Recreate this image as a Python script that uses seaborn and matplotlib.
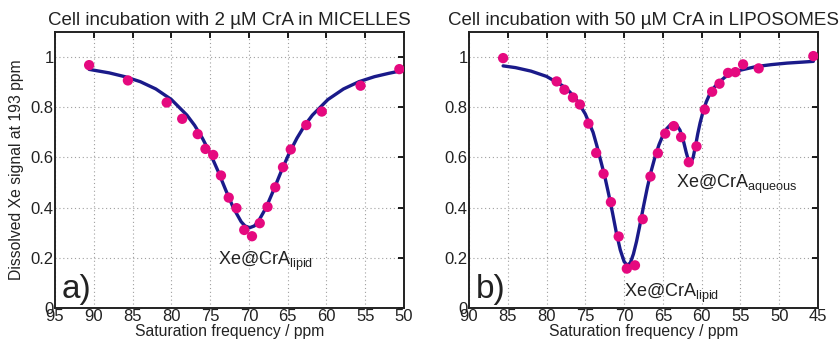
import matplotlib
matplotlib.use("Agg")
import matplotlib.pyplot as plt
import seaborn as sns
import pandas as pd

# ---- Panel a) MICELLES: measured points ----
a_ppm = [90.6, 85.6, 80.6, 78.6, 76.6, 75.6, 74.6, 73.6, 72.6, 71.6, 70.6,
         69.6, 68.6, 67.6, 66.6, 65.6, 64.6, 62.6, 60.6, 55.6, 50.6]
a_sig = [0.968, 0.907, 0.819, 0.754, 0.693, 0.634, 0.610, 0.528, 0.440, 0.398,
         0.311, 0.286, 0.338, 0.403, 0.481, 0.561, 0.632, 0.729, 0.783, 0.886, 0.952]
# ---- Panel a) fit curve (read off the picture) ----
a_fit_ppm = [90.6, 88, 86, 84, 82, 80, 78, 77, 76, 75, 74, 73, 72, 71, 70.5, 69.9,
             69.3, 68.8, 67.8, 66.8, 65.8, 64.8, 63.8, 62.8, 61.8, 59.8, 57.8,
             55.8, 53.8, 52, 50.6]
a_fit_sig = [0.951, 0.937, 0.922, 0.902, 0.873, 0.831, 0.769, 0.728, 0.677, 0.617,
             0.547, 0.471, 0.399, 0.344, 0.327, 0.320, 0.327, 0.344, 0.399, 0.471,
             0.547, 0.617, 0.677, 0.728, 0.769, 0.831, 0.873, 0.902, 0.922, 0.935, 0.944]

# ---- Panel b) LIPOSOMES: measured points ----
b_ppm = [85.6, 78.7, 77.7, 76.6, 75.7, 74.6, 73.6, 72.65, 71.7, 70.7, 69.65, 68.6,
         67.6, 66.6, 65.65, 64.7, 63.6, 62.65, 61.66, 60.67, 59.6, 58.65, 57.7,
         56.6, 55.65, 54.66, 52.65, 45.6]
b_sig = [0.996, 0.903, 0.870, 0.839, 0.811, 0.735, 0.618, 0.535, 0.422, 0.285,
         0.157, 0.170, 0.354, 0.524, 0.617, 0.695, 0.725, 0.681, 0.581, 0.644,
         0.791, 0.862, 0.894, 0.937, 0.940, 0.971, 0.955, 1.004]
# ---- Panel b) fit curve (read off the picture) ----
b_fit_ppm = [85.6, 84, 82, 80, 78, 77, 76, 75, 74, 73.5, 73, 72.5, 72, 71.5, 71, 70.5,
             70, 69.6, 69.2, 68.8, 68.4, 68, 67.5, 67, 66.5, 66, 65.5, 65, 64.5, 64,
             63.6, 63.2, 62.8, 62.4, 62, 61.7, 61.4, 61.1, 60.8, 60.5, 60.2, 59.8,
             59.4, 59, 58.5, 58, 57, 56, 55, 53, 51, 49, 47, 45.6]
b_fit_sig = [0.965, 0.958, 0.944, 0.923, 0.887, 0.861, 0.824, 0.773, 0.700, 0.645,
             0.585, 0.525, 0.455, 0.380, 0.300, 0.232, 0.185, 0.170, 0.180, 0.215,
             0.265, 0.325, 0.405, 0.481, 0.547, 0.604, 0.651, 0.688, 0.715, 0.731,
             0.735, 0.728, 0.709, 0.672, 0.621, 0.588, 0.578, 0.600, 0.645, 0.695,
             0.738, 0.785, 0.822, 0.850, 0.875, 0.893, 0.920, 0.937, 0.948, 0.962,
             0.970, 0.976, 0.980, 0.983]

titles = ["Cell incubation with 2 \u00b5M CrA in MICELLES",
          "Cell incubation with 50 \u00b5M CrA in LIPOSOMES"]
xlabel = "Saturation frequency / ppm"
ylabel = "Dissolved Xe signal at 193 ppm"
a_xticks = [95, 90, 85, 80, 75, 70, 65, 60, 55, 50]
b_xticks = [90, 85, 80, 75, 70, 65, 60, 55, 50, 45]
yticks = [0, 0.2, 0.4, 0.6, 0.8, 1]
ytick_labels = ["0", "0.2", "0.4", "0.6", "0.8", "1"]

sns.set_theme(style="white")
plt.rcParams["font.family"] = ["Liberation Sans", "DejaVu Sans"]
plt.rcParams["mathtext.fontset"] = "custom"
plt.rcParams["mathtext.rm"] = "Liberation Sans"

PINK = "#E5097F"
NAVY = "#1A1A8A"

fig = plt.figure(figsize=(8.39, 3.45), dpi=100)
axA = fig.add_axes([55 / 839, 37 / 345, 349 / 839, 276 / 345])
axB = fig.add_axes([469 / 839, 37 / 345, 349 / 839, 276 / 345])

panels = [
    (axA, a_ppm, a_sig, a_fit_ppm, a_fit_sig, a_xticks, (95, 50), titles[0], "a)"),
    (axB, b_ppm, b_sig, b_fit_ppm, b_fit_sig, b_xticks, (90, 45), titles[1], "b)"),
]

for ax, px, py, fx, fy, xt, xlim, title, tag in panels:
    fit_df = pd.DataFrame({"ppm": fx, "signal": fy})
    pts_df = pd.DataFrame({"ppm": px, "signal": py})
    sns.lineplot(data=fit_df, x="ppm", y="signal", ax=ax, color=NAVY,
                 linewidth=2.4, sort=False, zorder=2)
    sns.scatterplot(data=pts_df, x="ppm", y="signal", ax=ax, color=PINK,
                    s=55, edgecolor="none", zorder=3)
    ax.set_xlim(*xlim)
    ax.set_ylim(0, 1.1)
    ax.set_xticks(xt)
    ax.set_xticklabels([str(v) for v in xt])
    ax.set_yticks(yticks)
    ax.set_yticklabels(ytick_labels)
    ax.grid(True, linestyle=(0, (1, 2.5)), color="#a0a0a0", linewidth=0.8)
    ax.tick_params(direction="in", top=True, right=True, length=4,
                   labelsize=12, pad=1, color="black", labelcolor="#222222")
    for sp in ax.spines.values():
        sp.set_color("#222222")
        sp.set_linewidth(1.4)
    ax.set_xlabel(xlabel, fontsize=11.3, labelpad=0, color="#222222")
    ax.set_ylabel("")
    ax.set_title(title, fontsize=13.5, pad=5, color="#222222")
    ax.text(0.02, 0.035, tag, transform=ax.transAxes, fontsize=24,
            ha="left", va="baseline", color="#222222")

axA.set_ylabel(ylabel, fontsize=11.3, labelpad=5, color="#222222")

axA.text(74.0, 0.172, r"Xe@CrA$_\mathregular{lipid}$", fontsize=13,
         ha="left", va="baseline", color="#222222")
axB.text(70.0, 0.044, r"Xe@CrA$_\mathregular{lipid}$", fontsize=13,
         ha="left", va="baseline", color="#222222")
axB.text(63.3, 0.48, r"Xe@CrA$_\mathregular{aqueous}$", fontsize=13,
         ha="left", va="baseline", color="#222222")

fig.savefig("out.png", dpi=100)
